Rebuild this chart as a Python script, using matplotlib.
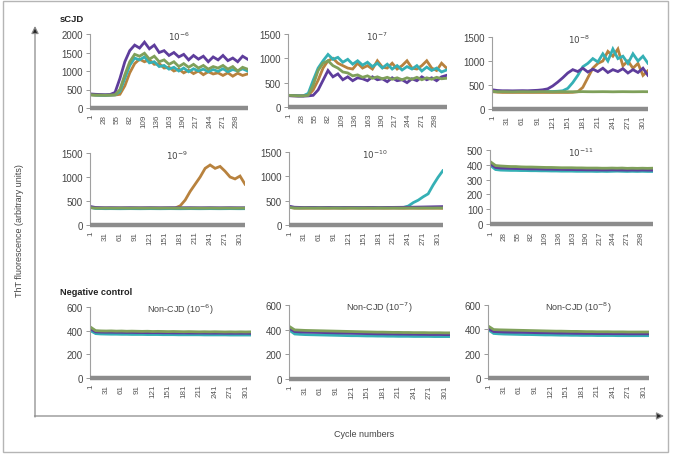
import numpy as np
import matplotlib
matplotlib.use("Agg")
from matplotlib import pyplot as plt
from matplotlib.patches import Rectangle

plt.rcParams['font.family'] = ['Liberation Sans', 'DejaVu Sans']

# cycle numbers (one reading every 10 cycles)
cycles = np.arange(1, 331, 10)

PURPLE = '#5e3d9c'
GREEN = '#7fa05a'
TEAL = '#35b0b5'
ORANGE = '#b8823e'

# sCJD 10^-6
d6_purple = [380,370,365,360,365,420,800,1250,1550,1700,1620,1780,1600,1700,1500,1550,1420,1500,1380,1450,1300,1420,1320,1400,1250,1380,1300,1420,1280,1350,1250,1400,1320]
d6_green = [360,350,350,345,350,360,500,900,1250,1450,1400,1480,1320,1400,1250,1300,1180,1250,1120,1200,1100,1180,1080,1150,1050,1120,1080,1150,1050,1120,1000,1100,1050]
d6_teal = [360,350,345,345,350,355,450,800,1150,1350,1300,1380,1220,1250,1120,1150,1050,1100,1000,1080,980,1060,1000,1050,980,1040,990,1060,980,1040,1000,1060,1000]
d6_orange = [355,345,340,340,345,350,370,600,950,1200,1320,1250,1300,1180,1200,1080,1100,1000,1050,950,1020,930,1000,900,980,920,950,880,950,860,940,880,920]

# sCJD 10^-7
d7_purple = [232,228,225,225,228,240,350,550,750,620,680,560,620,540,600,580,540,620,560,580,520,600,540,560,500,580,540,620,560,600,540,620,650]
d7_green = [240,235,230,230,240,450,750,900,950,850,800,720,700,640,660,610,640,590,620,580,610,570,600,560,600,570,610,560,600,570,610,580,590]
d7_teal = [240,235,230,230,280,550,800,950,1080,980,1020,920,980,880,950,860,920,830,900,800,880,780,850,760,830,780,850,740,820,750,800,720,760]
d7_orange = [235,230,228,228,235,350,550,800,950,1000,900,850,800,780,900,800,850,780,950,820,800,900,780,850,950,800,780,850,950,800,750,900,800]

# sCJD 10^-8
d8_purple = [400,385,380,380,378,380,382,380,385,390,400,420,480,560,650,750,820,780,850,770,830,780,850,760,820,780,840,750,820,760,850,700,760]
d8_green = [370,360,362,360,358,360,361,360,359,360,362,360,358,360,361,360,359,360,362,360,359,360,361,360,358,360,361,360,359,360,361,360,360]
d8_teal = [380,370,365,365,365,365,365,365,365,365,365,365,365,370,380,430,550,700,880,950,1050,980,1150,1000,1250,1050,1100,950,1150,1000,1100,950,980]
d8_orange = [360,350,345,345,345,345,345,345,345,345,345,345,345,345,345,345,348,360,450,650,850,950,1000,1200,1100,1250,900,1000,850,950,700,800,750]

# sCJD 10^-9
d9_purple = [385,365,362,360,361,360,359,360,361,360,359,360,361,360,359,360,361,360,359,360,361,360,359,360,361,360,359,360,361,360,359,360,360]
d9_green = [360,352,350,352,351,350,352,351,350,352,351,350,352,351,350,352,351,350,352,351,350,352,351,350,352,351,350,352,351,350,352,351,350]
d9_teal = [365,345,342,340,341,340,339,340,341,340,339,340,341,340,339,340,341,340,339,340,341,340,339,340,341,340,339,340,341,340,339,340,340]
d9_orange = [370,355,350,350,350,350,350,350,350,350,350,350,350,350,350,350,350,355,400,520,700,850,1000,1180,1250,1180,1220,1120,1000,960,1020,850,900]

# sCJD 10^-10
d10_purple = [385,365,362,360,361,360,359,360,361,360,359,360,361,360,359,360,361,360,359,360,361,362,363,364,365,366,368,370,372,374,376,378,380]
d10_green = [360,350,348,350,349,348,350,349,348,350,349,348,350,349,348,350,349,348,350,349,348,350,349,348,350,349,348,350,349,348,350,349,348]
d10_teal = [370,355,354,355,356,355,354,355,356,355,354,355,356,355,354,355,356,355,354,355,356,355,354,360,390,460,510,580,640,820,980,1120,1100]
d10_orange = [365,346,345,344,345,346,345,344,345,346,345,344,345,346,345,344,345,346,345,344,345,346,345,344,345,346,345,344,345,346,345,344,345]

# sCJD 10^-11
d11_purple = [405,382,378,377,376,375,374,373,372,372,371,370,370,369,369,368,368,367,367,366,366,366,365,365,366,365,365,364,365,364,365,364,364]
d11_green = [420,395,392,390,388,388,386,385,385,384,383,382,382,381,380,380,380,379,379,378,378,378,377,377,378,377,378,376,377,376,377,376,377]
d11_teal = [395,368,364,363,362,362,361,361,360,360,359,359,358,358,357,357,357,356,356,356,356,355,356,355,356,357,356,355,356,355,356,355,355]
d11_orange = [410,390,387,385,384,383,382,381,380,379,378,377,376,375,375,374,373,372,372,371,370,370,370,369,369,369,368,368,368,367,368,367,367]

# negative control, Non-CJD 10^-6
n6_purple = [415,390,388,387,387,386,386,385,385,384,384,383,383,383,382,382,381,381,381,380,380,380,380,379,379,379,378,378,378,378,378,377,377]
n6_green = [430,400,398,397,398,396,397,395,396,395,394,395,393,394,393,392,393,392,391,392,391,390,391,390,391,390,389,390,389,390,389,390,389]
n6_teal = [400,375,372,371,370,370,369,369,368,368,368,367,367,367,366,366,366,365,365,365,365,365,364,364,364,364,364,363,363,363,363,363,363]
n6_orange = [420,395,393,392,391,391,390,390,389,389,388,388,387,387,387,386,386,386,385,385,385,384,384,384,384,383,383,383,383,383,382,382,382]

# negative control, Non-CJD 10^-7
n7_purple = [410,385,382,380,379,378,377,376,375,374,373,372,371,370,369,368,367,366,366,365,365,364,364,363,363,362,362,361,361,361,360,360,360]
n7_green = [425,398,396,394,393,392,391,390,389,388,387,386,385,384,383,382,381,380,380,379,378,378,377,377,376,376,376,375,375,375,374,374,374]
n7_teal = [395,365,362,360,359,358,357,356,355,354,353,352,351,351,350,349,349,348,348,347,347,346,346,346,345,345,345,345,344,344,344,344,344]
n7_orange = [415,390,388,386,385,384,383,382,381,380,379,378,377,376,375,374,373,372,372,371,370,370,369,369,368,368,368,367,367,367,366,366,366]

# negative control, Non-CJD 10^-8
n8_purple = [405,382,380,378,377,376,376,375,374,373,372,372,371,370,369,369,368,367,367,366,366,365,365,365,364,364,364,363,363,363,363,363,363]
n8_green = [425,398,396,395,394,393,392,391,390,389,388,387,386,385,385,384,383,383,382,381,381,380,380,380,379,379,379,378,378,378,378,378,378]
n8_teal = [395,366,363,361,360,359,358,357,357,356,355,354,354,353,352,352,351,351,350,350,350,349,349,349,349,348,348,348,348,348,348,348,348]
n8_orange = [415,390,388,387,386,385,384,383,382,381,380,380,379,378,377,377,376,375,375,374,374,373,373,373,372,372,372,371,371,371,371,371,371]

ticks27 = list(range(1, 299, 27))
ticks30 = list(range(1, 302, 30))

# panel boxes in pixels: x0, ytop, x1, ybottom
panels = [
    ("$10^{-6}$", (90, 35, 248, 109), [0, 500, 1000, 1500, 2000], ticks27, 322,
     (d6_orange, d6_teal, d6_purple, d6_green)),
    ("$10^{-7}$", (288, 35, 447, 108), [0, 500, 1000, 1500], ticks27, 322,
     (d7_orange, d7_teal, d7_purple, d7_green)),
    ("$10^{-8}$", (492, 38, 648, 110), [0, 500, 1000, 1500], ticks30, 311,
     (d8_orange, d8_teal, d8_purple, d8_green)),
    ("$10^{-9}$", (90, 154, 245, 226), [0, 500, 1000, 1500], ticks30, 311,
     (d9_orange, d9_teal, d9_purple, d9_green)),
    ("$10^{-10}$", (289, 153, 443, 226), [0, 500, 1000, 1500], ticks30, 311,
     (d10_orange, d10_teal, d10_purple, d10_green)),
    ("$10^{-11}$", (490, 151, 653, 225), [0, 100, 200, 300, 400, 500], ticks27, 322,
     (d11_orange, d11_teal, d11_purple, d11_green)),
    ("Non-CJD (10$^{-6}$)", (90, 308, 251, 379), [0, 200, 400, 600], ticks30, 311,
     (n6_orange, n6_teal, n6_purple, n6_green)),
    ("Non-CJD (10$^{-7}$)", (289, 306, 450, 380), [0, 200, 400, 600], ticks30, 311,
     (n7_orange, n7_teal, n7_purple, n7_green)),
    ("Non-CJD (10$^{-8}$)", (488, 306, 649, 379), [0, 200, 400, 600], ticks30, 311,
     (n8_orange, n8_teal, n8_purple, n8_green)),
]

W, H = 673, 456
fig = plt.figure(figsize=(W / 100, H / 100), dpi=100)

# overlay in pixel coordinates for the frame, arrows and labels
over = fig.add_axes([0, 0, 1, 1])
over.set_xlim(0, W)
over.set_ylim(H, 0)
over.axis("off")
over.add_patch(Rectangle((3, 2), 665, 451, fill=False, ec='#b5b5b5', lw=1))
over.annotate('', xy=(35, 27), xytext=(35, 418),
              arrowprops=dict(arrowstyle='-|>', ec='#8a8a8a', fc='#222222', lw=0.9,
                              mutation_scale=11, shrinkA=0, shrinkB=0))
over.annotate('', xy=(664, 417), xytext=(34.5, 417),
              arrowprops=dict(arrowstyle='-|>', ec='#8a8a8a', fc='#222222', lw=0.9,
                              mutation_scale=11, shrinkA=0, shrinkB=0))
over.text(20, 231, "ThT fluorescence (arbitrary units)", rotation=90, ha='center',
          va='center', fontsize=6.5, color='#444444')
over.text(364, 435, "Cycle numbers", ha='center', va='center', fontsize=6.5, color='#444444')
over.text(60, 19, "sCJD", ha='left', va='center', fontsize=6.8, fontweight='bold', color='#222222')
over.text(60, 293, "Negative control", ha='left', va='center', fontsize=6.6,
          fontweight='bold', color='#222222')

colors = (ORANGE, TEAL, PURPLE, GREEN)
for title, (x0, y0, x1, y1), yticks, xticks, xmax, series in panels:
    ax = fig.add_axes([x0 / W, (H - y1) / H, (x1 - x0) / W, (y1 - y0) / H])
    ax.patch.set_alpha(0)
    for vals, c in zip(series, colors):
        ax.plot(cycles, vals, color=c, lw=2.0, solid_joinstyle='miter')
    ax.set_xlim(0, xmax)
    ax.set_ylim(0, yticks[-1])
    ax.set_yticks(yticks)
    ax.set_xticks(xticks)
    ax.set_xticklabels([str(t) for t in xticks], rotation=90, fontsize=5.8, color='#555555')
    ax.tick_params(axis='y', labelsize=7, colors='#999999', labelcolor='#444444',
                   length=3, width=0.7, pad=2)
    if xticks == ticks27 and yticks[-1] == 500:
        ax.tick_params(axis='x', length=4, width=0.8, colors='white',
                       labelcolor='#555555', direction='inout', pad=3)
    else:
        ax.tick_params(axis='x', length=0, pad=4)
    for s in ('top', 'right'):
        ax.spines[s].set_visible(False)
    ax.spines['left'].set_color('#a0a0a0')
    ax.spines['left'].set_linewidth(0.8)
    ax.spines['bottom'].set_color('#8c8c8c')
    ax.spines['bottom'].set_linewidth(3.2)
    ax.spines['bottom'].set_capstyle('butt')
    ax.spines['bottom'].set_zorder(3)
    fs = 6.5 if title.startswith("Non") else 6.3
    ax.text(0.56, 0.97, title, transform=ax.transAxes, ha='center', va='center',
            fontsize=fs, color='#444444')

fig.savefig("out.png", dpi=100)
